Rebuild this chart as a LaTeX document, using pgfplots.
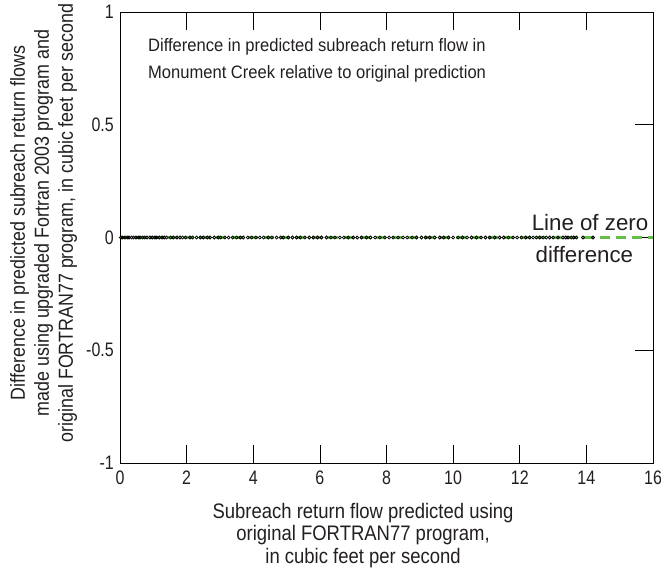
\documentclass[border=0pt]{standalone}
\usepackage{fontspec}
\setmainfont{Liberation Sans}
\newfontfamily\tickfont{Liberation Sans}[FakeStretch=0.82]
\newfontfamily\labfont{Liberation Sans}[FakeStretch=0.88]
\newfontfamily\annfont{Liberation Sans}[FakeStretch=0.92]
\usepackage{pgfplots}
\pgfplotsset{compat=1.18}
\definecolor{zgreen}{RGB}{100,190,70}
\definecolor{txt}{RGB}{35,31,32}
\begin{document}
\begin{tikzpicture}
\begin{axis}[
  scale only axis,
  width=533bp, height=451bp,
  xmin=0, xmax=16, ymin=-1, ymax=1,
  xtick={0,2,...,16},
  ytick={-1,-0.5,0,0.5,1},
  yticklabels={-1,-0.5,0,0.5,1},
  xticklabels={0,2,4,6,8,10,12,14,16},
  tick align=inside,
  ytick pos=right, yticklabel pos=left,
  xtick pos=both, xticklabel pos=bottom,
  major tick length=18bp,
  tick style={black, line width=0.7pt},
  axis line style={black, line width=1pt},
  /pgf/number format/assume math mode=true,
  ticklabel style={font=\tickfont\fontsize{19.5bp}{21bp}\selectfont, text=txt, inner sep=0pt},
  xticklabel style={anchor=north, yshift=-8bp},
  yticklabel style={anchor=east, xshift=-6bp},
  xlabel={Subreach return flow predicted using\\original FORTRAN77 program,\\in cubic feet per second},
  xlabel style={at={(axis description cs:0.456,-0.088)}, anchor=north, inner sep=0pt, align=center, font=\labfont\fontsize{21bp}{22.5bp}\selectfont, text=txt},
  ylabel={Difference in predicted subreach return flows\\made using upgraded Fortran 2003 program and\\original FORTRAN77 program, in cubic feet per second},
  ylabel style={at={(axis description cs:-0.1435,0.532)}, anchor=center, inner sep=0pt, align=center, font=\labfont\fontsize{20.3bp}{24bp}\selectfont, text=txt},
  clip=false,
]
\coordinate (bl) at (rel axis cs:0,0);
\coordinate (tr) at (rel axis cs:1,1);
\addplot[only marks, mark=o, mark size=1.5bp, black, line width=0.8pt] coordinates {
(0.03,0) (0.08,0) (0.15,0) (0.22,0) (0.27,0) (0.35,0) (0.41,0) (0.48,0) (0.55,0) (0.6,0)
(0.68,0) (0.74,0) (0.81,0) (0.9,0) (0.97,0) (1.05,0) (1.1,0) (1.18,0) (1.26,0) (1.33,0)
(1.4,0) (1.52,0) (1.6,0) (1.71,0) (1.8,0) (1.88,0) (1.97,0) (2.1,0) (2.18,0) (2.3,0)
(2.41,0) (2.5,0) (2.62,0) (2.7,0) (2.83,0) (2.95,0) (3.02,0) (3.15,0) (3.26,0) (3.38,0)
(3.5,0) (3.61,0) (3.7,0) (3.84,0) (3.95,0) (4.08,0) (4.2,0) (4.31,0) (4.45,0) (4.56,0)
(4.7,0) (4.82,0) (4.9,0) (5.05,0) (5.18,0) (5.3,0) (5.41,0) (5.55,0) (5.68,0) (5.8,0)
(5.93,0) (6.05,0) (6.2,0) (6.33,0) (6.45,0) (6.6,0) (6.72,0) (6.85,0) (7.0,0) (7.12,0)
(7.25,0) (7.4,0) (7.52,0) (7.66,0) (7.8,0) (7.95,0) (8.08,0) (8.2,0) (8.35,0) (8.5,0)
(8.62,0) (8.77,0) (8.9,0) (9.05,0) (9.18,0) (9.3,0) (9.45,0) (9.6,0) (9.72,0) (9.86,0)
(10.0,0) (10.15,0) (10.28,0) (10.42,0) (10.55,0) (10.7,0) (10.84,0) (10.97,0) (11.1,0) (11.25,0)
(11.4,0) (11.52,0) (11.66,0) (11.8,0) (11.92,0) (12.05,0) (12.18,0) (12.3,0) (12.4,0) (12.5,0)
(12.6,0) (12.7,0) (12.8,0) (12.9,0) (13.0,0) (13.15,0) (13.3,0) (13.38,0) (13.45,0) (13.55,0)
(13.62,0) (13.7,0) (13.9,0) (14.2,0)
};
\addplot[zgreen, line width=3bp, dash pattern=on 10bp off 6bp] coordinates {(0,0) (16,0)};
\node[anchor=base west, font=\annfont\fontsize{18bp}{21bp}\selectfont, text=txt, inner sep=0pt] at (axis cs:0.84,0.823) {Difference in predicted subreach return flow in};
\node[anchor=base west, font=\annfont\fontsize{18bp}{21bp}\selectfont, text=txt, inner sep=0pt] at (axis cs:0.84,0.707) {Monument Creek relative to original prediction};
\node[anchor=base, font=\fontsize{22.3bp}{24bp}\selectfont, text=txt, inner sep=0pt] at (axis cs:14.11,0.033) {Line of zero};
\node[anchor=base, font=\fontsize{22.3bp}{24bp}\selectfont, text=txt, inner sep=0pt] at (axis cs:13.94,-0.113) {difference};
\end{axis}
\pgfresetboundingbox
\path[use as bounding box] ([xshift=-120bp,yshift=-114bp]bl) rectangle ([xshift=8bp,yshift=12bp]tr);
\end{tikzpicture}
\end{document}
